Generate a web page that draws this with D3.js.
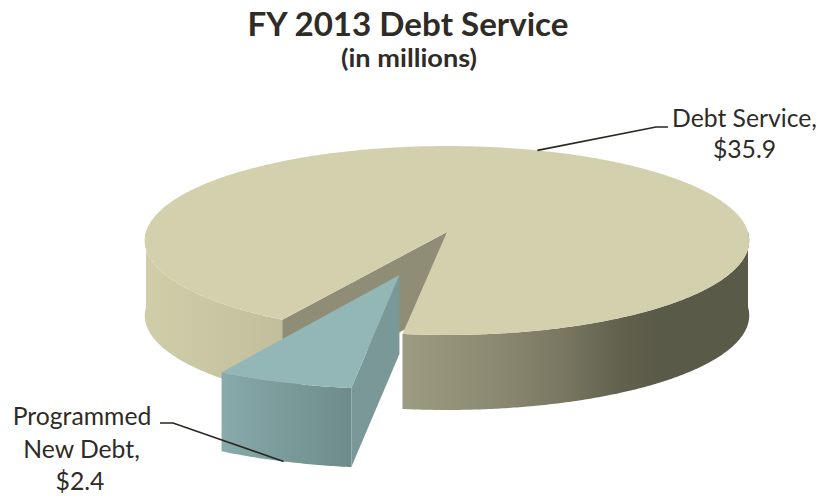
<!DOCTYPE html>
<html>
<head>
<meta charset="utf-8">
<script src="https://cdn.jsdelivr.net/npm/d3@7"></script>
<style>
  html, body { margin: 0; padding: 0; background: #ffffff; }
  svg { display: block; }
  text { font-family: Lato, "Open Sans", "Liberation Sans", sans-serif; fill: #2f2b26; }
</style>
</head>
<body>
<svg id="chart" width="821" height="498"></svg>
<script>
// ---- data ----
const categories = ["Debt Service", "Programmed New Debt"];
const values = [35.9, 2.4];
const valueLabels = ["$35.9", "$2.4"];
const titleText = "FY 2013 Debt Service";
const subtitleText = "(in millions)";

// ---- layout / style ----
const W = 821, H = 498;
const cx = 447, cy = 232;          // projected centre of the pie top
const kx = 301, ky = 93.7;         // horizontal / vertical radius factors
const persp = 0.09;                // front-to-back perspective strength
const rotation = 210.3 * Math.PI / 180;   // angle of first slice
const explode = [0, 0.485];        // slice pull-out, in radius units
const sliceScale = [[1, 1], [1.08, 1.11]];
const sliceDepth = [75, 79];
const topFill = ["#d3d0ad", "#93b7b6"];
const cutFill = ["#8f8d75", "#7a9898"];
const sideStops = [
  [[0, "#d0cda9"], [0.229, "#c1be9c"], [0.427, "#9d9b81"], [0.588, "#8a8870"],
   [0.688, "#7a7862"], [0.787, "#62614e"], [0.85, "#5a5a48"], [1, "#5a5a48"]],
  [[0, "#87aaaa"], [1, "#6e8b8b"]]
];

const svg = d3.select("#chart");
const defs = svg.append("defs");

const pie = d3.pie().sort(null).value(d => d)
  .startAngle(rotation).endAngle(rotation + 2 * Math.PI);
const arcs = pie(values);

// unit-circle point (angle measured clockwise from the back) seen in perspective
function proj(a, r) {
  const u = r * Math.sin(a), v = -r * Math.cos(a);
  const w = 1 - persp * v;
  return [kx * u / w, ky * v / w];
}

const slices = arcs.map((d, i) => {
  const mid = (d.startAngle + d.endAngle) / 2;
  const ox = cx + explode[i] * kx * Math.sin(mid);
  const oy = cy - explode[i] * ky * Math.cos(mid);
  const [sx, sy] = sliceScale[i];
  const pt = (a, r, z) => {
    const p = proj(a, r);
    return [ox + sx * p[0], oy + sy * p[1] + z * sliceDepth[i]];
  };
  return { d, i, mid, pt, front: -Math.cos(mid) };
});

const line = d3.line();
const STEP = Math.PI / 360;
function arcPoints(pt, a0, a1, z) {
  const n = Math.max(2, Math.ceil(Math.abs(a1 - a0) / STEP));
  return d3.range(n + 1).map(j => pt(a0 + (a1 - a0) * j / n, 1, z));
}

// outer-rim ranges that face the viewer: angles in (pi/2, 3pi/2) mod 2pi
function visibleRanges(a0, a1) {
  const out = [];
  for (let n = -2; n <= 3; n++) {
    const lo = Math.max(a0, Math.PI / 2 + 2 * Math.PI * n);
    const hi = Math.min(a1, 3 * Math.PI / 2 + 2 * Math.PI * n);
    if (hi > lo) out.push([lo, hi]);
  }
  return out;
}

// back slices first, front slices last
const order = slices.slice().sort((a, b) => a.front - b.front);

order.forEach(s => {
  const { d, i, pt } = s;
  const g = svg.append("g").attr("class", "slice slice-" + i);

  // side gradient spanning the slice horizontally
  const xs = d3.range(0, 1.0001, 0.01).map(t => pt(d.startAngle + (d.endAngle - d.startAngle) * t, 1, 0)[0]);
  let x1 = d3.min(xs), x2 = d3.max(xs);
  if (d.endAngle - d.startAngle > Math.PI) { x1 = pt(-Math.PI / 2, 1, 0)[0]; x2 = pt(Math.PI / 2, 1, 0)[0]; }
  const grad = defs.append("linearGradient")
    .attr("id", "side" + i).attr("gradientUnits", "userSpaceOnUse")
    .attr("x1", x1).attr("x2", x2).attr("y1", 0).attr("y2", 0);
  sideStops[i].forEach(([o, c]) => grad.append("stop").attr("offset", o).attr("stop-color", c));

  // outer rim
  visibleRanges(d.startAngle, d.endAngle).forEach(([lo, hi]) => {
    const pts = arcPoints(pt, lo, hi, 0).concat(arcPoints(pt, hi, lo, 1));
    g.append("path").attr("d", line(pts) + "Z").attr("fill", "url(#side" + i + ")");
  });

  // radial cut faces that face the viewer
  [[d.startAngle, Math.sin(d.startAngle) < 0], [d.endAngle, Math.sin(d.endAngle) > 0]]
    .forEach(([a, vis]) => {
      if (!vis) return;
      const pts = [pt(a, 0, 0), pt(a, 1, 0), pt(a, 1, 1), pt(a, 0, 1)];
      g.append("path").attr("d", line(pts) + "Z").attr("fill", cutFill[i]);
    });

  // top face
  const topPts = [pt(0, 0, 0)].concat(arcPoints(pt, d.startAngle, d.endAngle, 0));
  g.append("path").attr("d", line(topPts) + "Z").attr("fill", topFill[i]);
});

// ---- leader lines and labels ----
const leader = svg.append("g").attr("class", "leaders")
  .attr("fill", "none").attr("stroke", "#2b2620").attr("stroke-width", 1.6);

const bigAnchor = slices[0].pt(slices[0].mid, 1, 0);
leader.append("path").attr("d", line([bigAnchor, [656, 127], [668, 127]]));

const smallAnchor = slices[1].pt(slices[1].mid, 1, 1);
leader.append("path").attr("d", line([smallAnchor, [173, 423], [160, 423]]));

function fitWidth(sel, target) {
  const w = sel.node().getComputedTextLength();
  const fs = parseFloat(sel.attr("font-size"));
  sel.attr("font-size", (fs * target / w).toFixed(2));
}

const lab0 = svg.append("g").attr("class", "label");
const l0a = lab0.append("text").attr("x", 744.5).attr("y", 127).attr("text-anchor", "middle")
  .attr("font-size", 26).text(categories[0] + ",");
fitWidth(l0a, 145);
const fs0 = l0a.attr("font-size");
lab0.append("text").attr("x", 744.5).attr("y", 158).attr("text-anchor", "middle")
  .attr("font-size", fs0).text(valueLabels[0]);

const words = categories[1].split(" ");
const lab1 = svg.append("g").attr("class", "label");
lab1.append("text").attr("x", 82).attr("y", 425).attr("text-anchor", "middle")
  .attr("font-size", fs0).text(words[0]);
lab1.append("text").attr("x", 81.5).attr("y", 458).attr("text-anchor", "middle")
  .attr("font-size", fs0).text(words.slice(1).join(" ") + ",");
lab1.append("text").attr("x", 80).attr("y", 490).attr("text-anchor", "middle")
  .attr("font-size", fs0).text(valueLabels[1]);

// title block, widened to the heading's set width
svg.append("text").attr("x", 408).attr("y", 36).attr("text-anchor", "middle")
  .attr("font-size", 31.5).attr("font-weight", "bold")
  .attr("textLength", 321).attr("lengthAdjust", "spacingAndGlyphs").text(titleText);
svg.append("text").attr("x", 409).attr("y", 66.5).attr("text-anchor", "middle")
  .attr("font-size", 24).attr("font-weight", "bold")
  .attr("textLength", 136).attr("lengthAdjust", "spacingAndGlyphs").text(subtitleText);
</script>
</body>
</html>
